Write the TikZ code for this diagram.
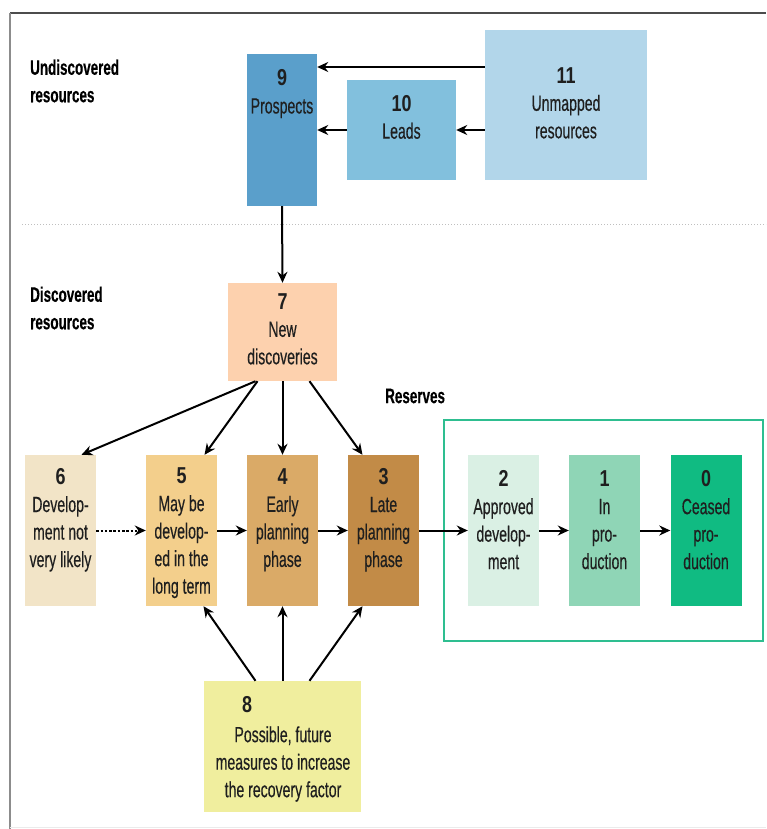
\documentclass[tikz,border=0pt]{standalone}
\usepackage{fontspec}
\setmainfont{Liberation Sans}[FakeStretch=0.64, FakeBold=0.35]
\newfontfamily\numfont{Liberation Sans}[FakeStretch=0.78]
\usetikzlibrary{arrows.meta}

\definecolor{cNine}{HTML}{5A9FCB}
\definecolor{cTen}{HTML}{82C0DD}
\definecolor{cEleven}{HTML}{B2D6EA}
\definecolor{cSeven}{HTML}{FDD1AE}
\definecolor{cSix}{HTML}{F2E4C7}
\definecolor{cFive}{HTML}{F3CF8C}
\definecolor{cFour}{HTML}{DAAA67}
\definecolor{cThree}{HTML}{C28B47}
\definecolor{cTwo}{HTML}{DAF0E4}
\definecolor{cOne}{HTML}{8FD5B6}
\definecolor{cZero}{HTML}{10BB82}
\definecolor{cEight}{HTML}{F0EE9E}
\definecolor{cFrame}{HTML}{2EBE90}

\newcommand{\num}[1]{{\numfont\fontsize{23}{28}\selectfont\bfseries #1}}

\begin{document}
\begin{tikzpicture}[x=1pt,y=-1pt,
  box/.style={rectangle, draw=none, inner sep=0pt},
  txt/.style={align=center, inner sep=0pt, font=\fontsize{22}{27.5}\selectfont, text=black!88},
  side/.style={align=left, anchor=west, inner sep=0pt, font=\fontsize{21}{27.5}\selectfont\bfseries, text=black},
  arr/.style={line width=2pt, -{Stealth[length=11pt,width=10pt]}},
  rowbox/.style={box, minimum width=71, minimum height=151}
]
\useasboundingbox (0,0) rectangle (766,829);
\fill[white] (0,0) rectangle (766,829);

% page frame
\draw[line width=2pt, black!70] (10,13) -- (766,13);
\draw[line width=2pt, black!45] (10,13) -- (10,829);
\draw[line width=0.8pt, black!8] (10,827) -- (766,827);

% separator between undiscovered and discovered resources
\draw[line width=1pt, black!25, dotted] (22,224) -- (766,224);

% section labels
\node[side] (lund) at (30,81) {Undiscovered\\resources};
\node[side] (ldis) at (30,308) {Discovered\\resources};
\node[side] (lres) at (385,396) {Reserves};

% undiscovered resources
\node[box, fill=cNine, minimum width=70, minimum height=152] (b9) at (282,130) {};
\node[box, fill=cTen, minimum width=109, minimum height=100] (b10) at (401.5,130) {};
\node[box, fill=cEleven, minimum width=162, minimum height=150] (b11) at (566,105) {};
\node[txt] (t9) at (282,94) {\num{9}\\Prospects};
\node[txt] (t10) at (401.5,117) {\num{10}\\Leads};
\node[txt] (t11) at (566,103) {\num{11}\\Unmapped\\resources};

% new discoveries
\node[box, fill=cSeven, minimum width=109, minimum height=98] (b7) at (282.5,332) {};
\node[txt] (t7) at (282.5,329) {\num{7}\\New\\discoveries};

% reserves frame
\node[draw=cFrame, line width=1.6pt, minimum width=319, minimum height=221, inner sep=0pt] (frame) at (603.5,530.5) {};

% row of project phases
\node[rowbox, fill=cSix] (b6) at (60.5,530.5) {};
\node[rowbox, fill=cFive] (b5) at (181.5,530.5) {};
\node[rowbox, fill=cFour] (b4) at (282.5,530.5) {};
\node[rowbox, fill=cThree] (b3) at (383.5,530.5) {};
\node[rowbox, fill=cTwo] (b2) at (503.5,530.5) {};
\node[rowbox, fill=cOne] (b1) at (604.5,530.5) {};
\node[rowbox, fill=cZero] (b0) at (706,530.5) {};

\node[txt] (t6) at (60.5,520) {\num{6}\\Develop-\\ment not\\very likely};
\node[txt] (t5) at (181.5,533) {\num{5}\\May be\\develop-\\ed in the\\long term};
\node[txt] (t4) at (282.5,520) {\num{4}\\Early\\planning\\phase};
\node[txt] (t3) at (383.5,520) {\num{3}\\Late\\planning\\phase};
\node[txt] (t2) at (503.5,520) {\num{2}\\Approved\\develop-\\ment};
\node[txt] (t1) at (604.5,520) {\num{1}\\In\\pro-\\duction};
\node[txt] (t0) at (706,520) {\num{0}\\Ceased\\pro-\\duction};

% recovery measures
\node[box, fill=cEight, minimum width=157, minimum height=131] (b8) at (282.5,746.5) {};
\node[txt] (t8n) at (247,705) {\num{8}};
\node[txt] (t8) at (283,764) {Possible, future\\measures to increase\\the recovery factor};

% connectors
\draw[arr] ([yshift=38pt]b11.west) -- ([yshift=63pt]b9.east);
\draw[arr] ([yshift=-25pt]b11.west) -- (b10.east);
\draw[arr] (b10.west) -- (b9.east);
\draw[arr] (b9.south) -- (b7.north);

\draw[arr] ([xshift=-27pt]b7.south) -- ([xshift=21pt]b6.north);
\draw[arr] ([xshift=-25pt]b7.south) -- ([xshift=23pt]b5.north);
\draw[arr] (b7.south) -- (b4.north);
\draw[arr] ([xshift=27pt]b7.south) -- ([xshift=-21pt]b3.north);

\draw[arr, dash pattern=on 2.5pt off 1.8pt] (b6.east) -- (b5.west);
\draw[arr] (b5.east) -- (b4.west);
\draw[arr] (b4.east) -- (b3.west);
\draw[arr] (b3.east) -- (b2.west);
\draw[arr] (b2.east) -- (b1.west);
\draw[arr] (b1.east) -- (b0.west);

\draw[arr] ([xshift=-27pt]b8.north) -- ([xshift=22pt]b5.south);
\draw[arr] (b8.north) -- (b4.south);
\draw[arr] ([xshift=27pt]b8.north) -- ([xshift=-21pt]b3.south);
\end{tikzpicture}
\end{document}
